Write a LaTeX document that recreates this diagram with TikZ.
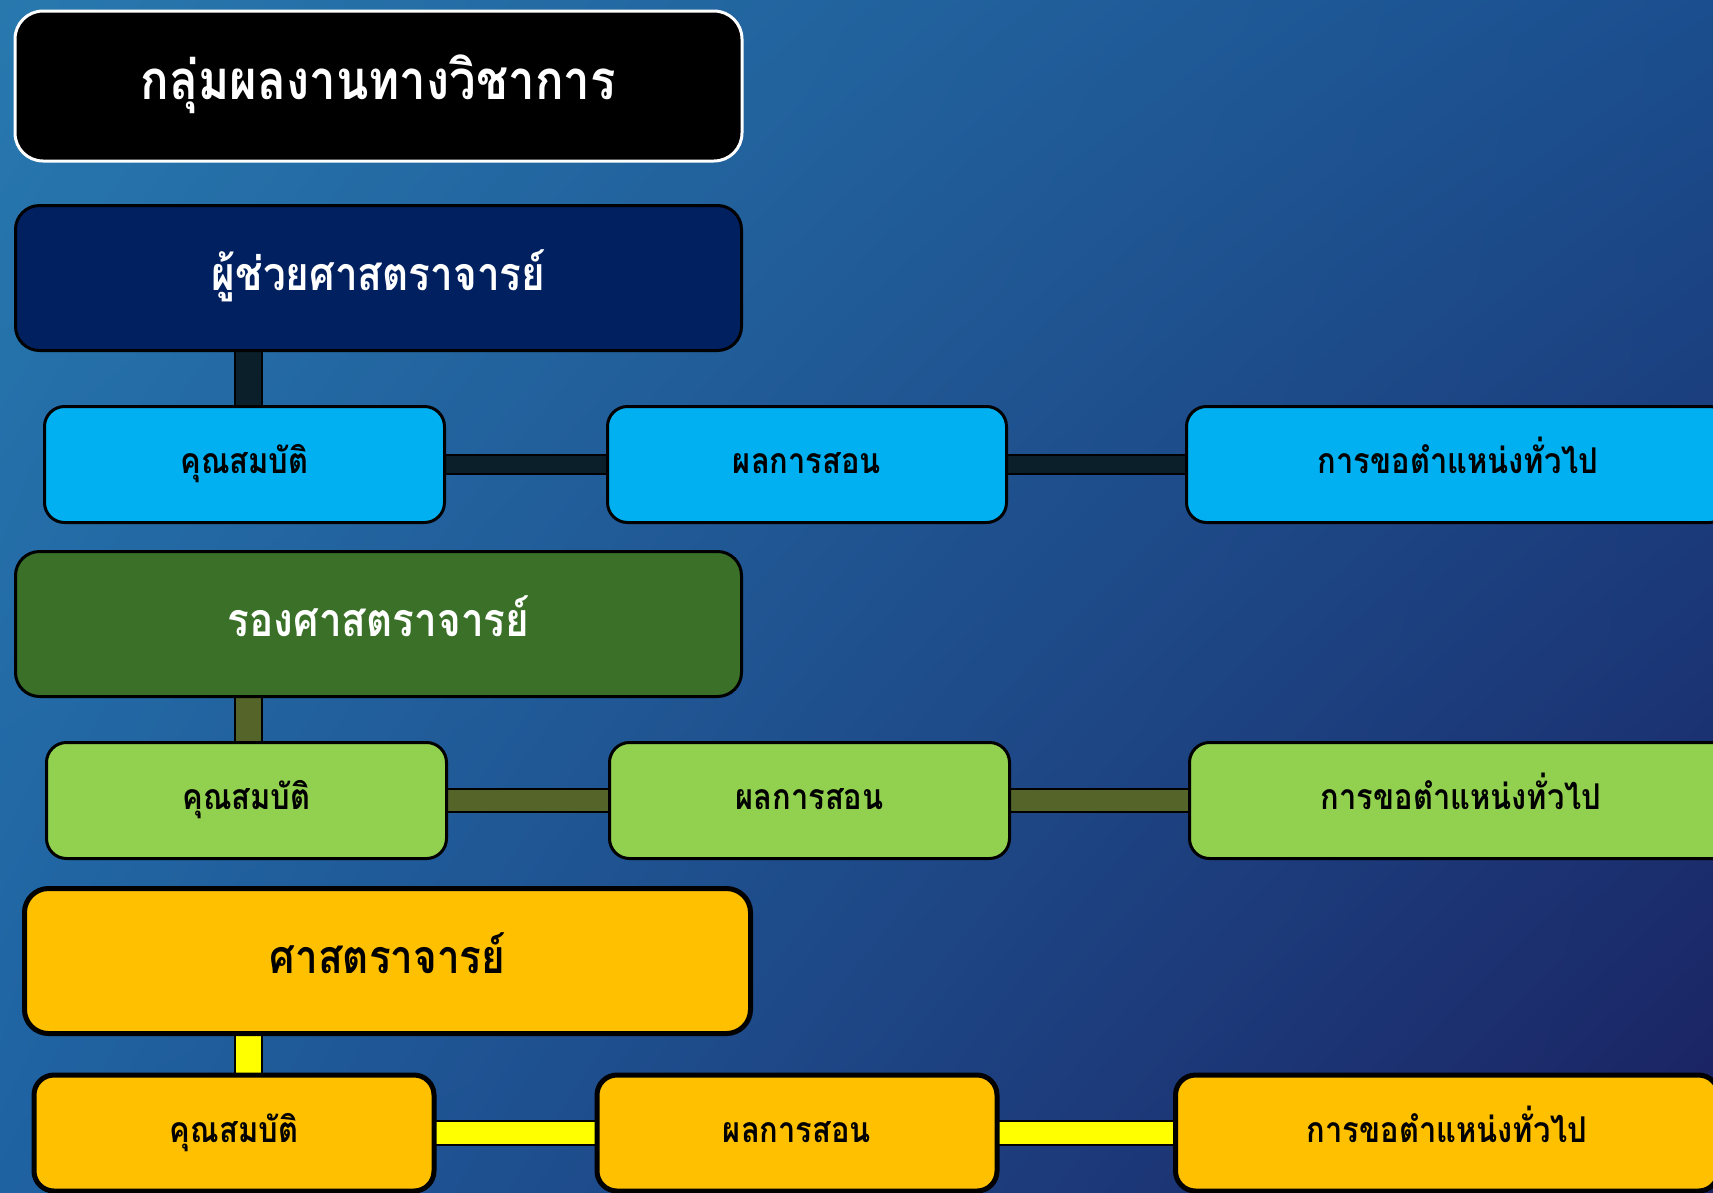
\documentclass[tikz,border=0pt]{standalone}
\usepackage{fontspec}
\newfontfamily\thaifont[Script=Thai,FakeStretch=0.87]{Loma}
\usetikzlibrary{calc,shadings}
\definecolor{bgUL}{RGB}{40,120,174}
\definecolor{bgUR}{RGB}{27,78,142}
\definecolor{bgLL}{RGB}{31,98,162}
\definecolor{bgLR}{RGB}{27,32,96}
\definecolor{navybox}{HTML}{002060}
\definecolor{skybox}{HTML}{00B0F0}
\definecolor{darklink}{HTML}{0A1F2A}
\definecolor{greenbox}{HTML}{3A7028}
\definecolor{lightgreen}{HTML}{92D050}
\definecolor{olivelink}{HTML}{55652A}
\definecolor{orangebox}{HTML}{FFC000}
\definecolor{yellowlink}{HTML}{FFFF00}
\pgfdeclarelayer{bgshade}
\pgfdeclarelayer{links}
\pgfsetlayers{bgshade,links,main}
\begin{document}
\begin{tikzpicture}[x=1pt,y=-1pt,
  titlebox/.style={draw=white, fill=black, line width=3pt, rounded corners=28pt,
    inner sep=0pt, text=white, text height=26pt, text depth=0pt,
    font=\thaifont\bfseries\fontsize{54.5}{64}\selectfont},
  levelbox/.style={draw=black, line width=3pt, rounded corners=24pt, inner sep=0pt,
    minimum width=726pt, minimum height=145pt, text height=24pt, text depth=0pt,
    font=\thaifont\bfseries\fontsize{46.5}{55}\selectfont},
  rowbox/.style={draw=black, line width=3pt, rounded corners=20pt, inner sep=0pt,
    minimum height=116pt, text height=18pt, text depth=0pt,
    font=\thaifont\bfseries\fontsize{35.5}{42}\selectfont},
  link/.style={draw=black, line width=2pt, double=#1}
]
\useasboundingbox (0,0) rectangle (1713,1192);
\clip (0,0) rectangle (1713,1192);
\begin{pgfonlayer}{bgshade}
\shade[upper left=bgUL, upper right=bgUR, lower left=bgLL, lower right=bgLR]
  (0,0) rectangle (1713,1192);
\end{pgfonlayer}

% title
\node[titlebox, minimum width=727pt, minimum height=150pt] (title) at (378.5,86) {กลุ่มผลงานทางวิชาการ};

% level 1
\node[levelbox, fill=navybox, text=white] (p1) at (378.5,278) {ผู้ช่วยศาสตราจารย์};
\node[rowbox, fill=skybox, minimum width=400pt] (a1) at (244.5,464.5) {คุณสมบัติ};
\node[rowbox, fill=skybox, minimum width=399pt] (b1) at (807,464.5) {ผลการสอน};
\node[rowbox, fill=skybox, minimum width=543pt] (c1) at (1458,464.5) {การขอตำแหน่งทั่วไป};

% level 2
\node[levelbox, fill=greenbox, text=white] (p2) at (378.5,624) {รองศาสตราจารย์};
\node[rowbox, fill=lightgreen, minimum width=400pt] (a2) at (246.5,800.5) {คุณสมบัติ};
\node[rowbox, fill=lightgreen, minimum width=400pt] (b2) at (809.5,800.5) {ผลการสอน};
\node[rowbox, fill=lightgreen, minimum width=543pt] (c2) at (1461,800.5) {การขอตำแหน่งทั่วไป};

% level 3
\node[levelbox, fill=orangebox, text=black, line width=5pt] (p3) at (387.5,961) {ศาสตราจารย์};
\node[rowbox, fill=orangebox, line width=5pt, minimum width=400pt] (a3) at (234,1133) {คุณสมบัติ};
\node[rowbox, fill=orangebox, line width=5pt, minimum width=400pt] (b3) at (797,1133) {ผลการสอน};
\node[rowbox, fill=orangebox, line width=5pt, minimum width=543pt] (c3) at (1447,1133) {การขอตำแหน่งทั่วไป};

\coordinate (vx) at (248.5,0);

\begin{pgfonlayer}{links}
\draw[link=darklink, double distance=25pt] (p1.center -| vx) -- (a1.center -| vx);
\draw[link=darklink, double distance=17pt] (a1.center) -- (b1.center);
\draw[link=darklink, double distance=17pt] (b1.center) -- (c1.center);
\draw[link=olivelink, double distance=25pt] (p2.center -| vx) -- (a2.center -| vx);
\draw[link=olivelink, double distance=21pt] (a2.center) -- (b2.center);
\draw[link=olivelink, double distance=21pt] (b2.center) -- (c2.center);
\draw[link=yellowlink, double distance=25pt] (p3.center -| vx) -- (a3.center -| vx);
\draw[link=yellowlink, double distance=22pt] (a3.center) -- (b3.center);
\draw[link=yellowlink, double distance=22pt] (b3.center) -- (c3.center);
\end{pgfonlayer}
\end{tikzpicture}
\end{document}
